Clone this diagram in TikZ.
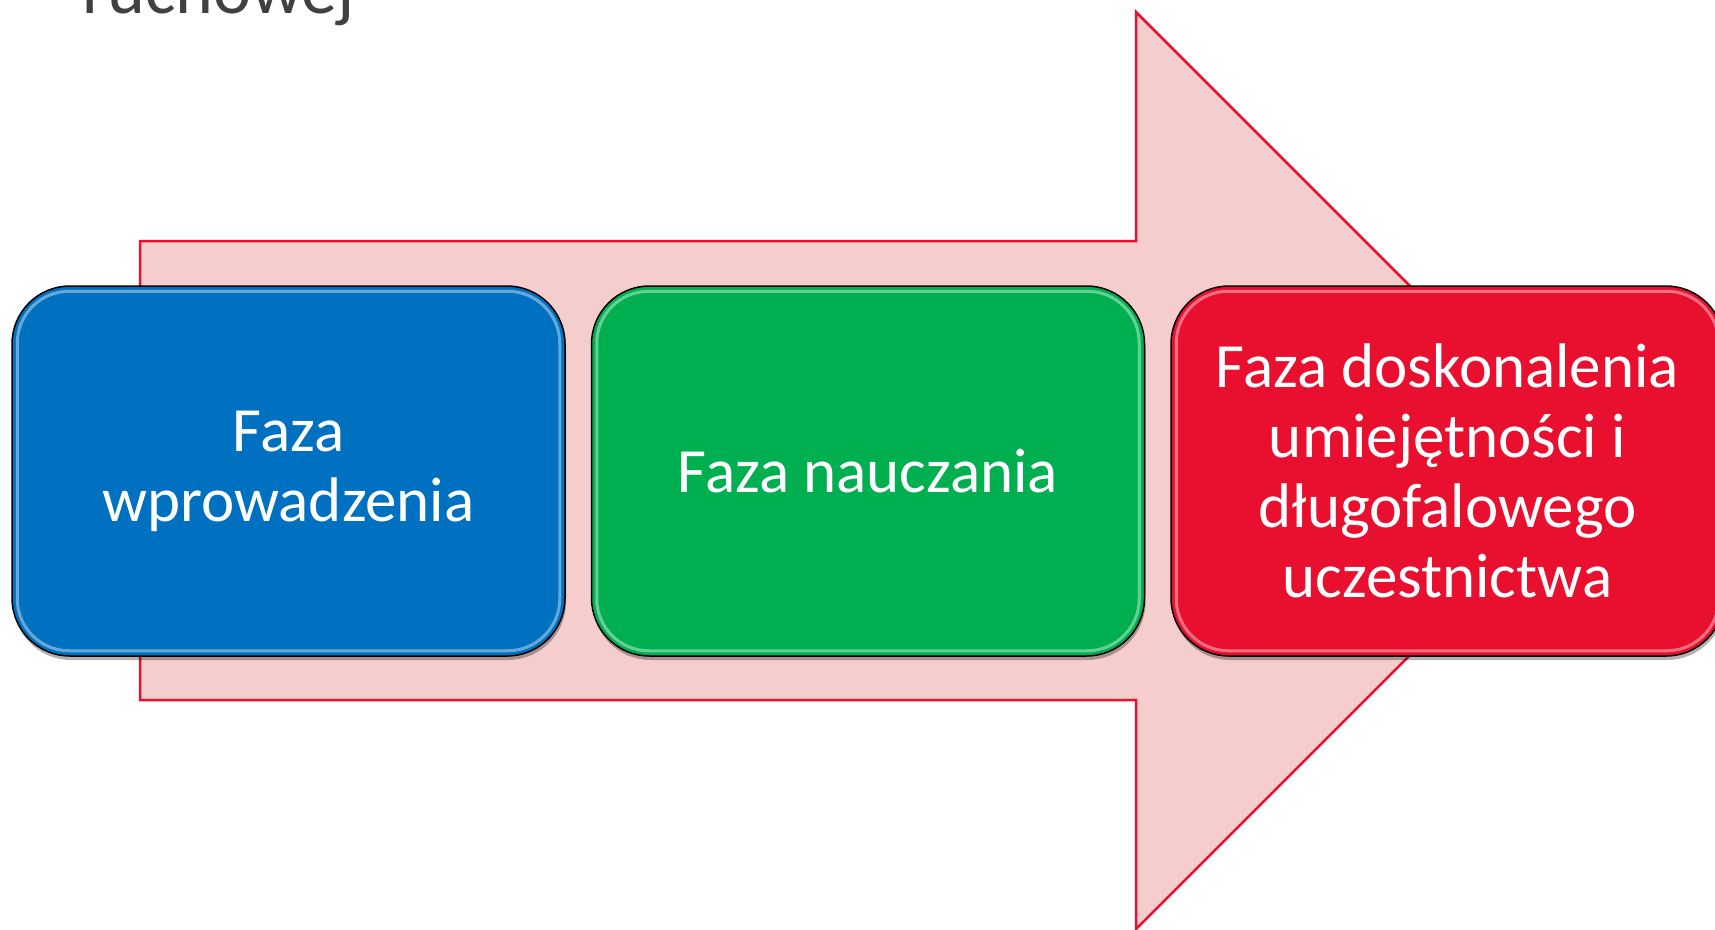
\documentclass[tikz,border=0pt]{standalone}
\usepackage{fontspec}
\setmainfont{Carlito}
\usepackage{tikz}
\usetikzlibrary{positioning}
\usetikzlibrary{shadows}

\definecolor{phaseblue}{RGB}{0,112,192}
\definecolor{phasegreen}{RGB}{0,176,80}
\definecolor{phasered}{RGB}{232,16,46}
\definecolor{arrowpink}{RGB}{246,205,205}
\definecolor{titlegray}{RGB}{64,64,64}

\begin{document}
\begin{tikzpicture}[x=1pt, y=-1pt,
        phase/.style={rectangle, rounded corners=58pt, fill=#1,
        draw=black, line width=1.5pt, minimum width=553pt,
        minimum height=370pt, inner sep=0pt, align=center, text=white,
        font=\fontsize{63}{70}\selectfont,
        drop shadow={shadow xshift=1pt, shadow yshift=-4pt,
        opacity=0.3, fill=black}},
        glint/.style={white, opacity=0.4, line width=3pt,
        rounded corners=52pt}]
        \useasboundingbox (0,0) rectangle (1715,929);

        \node[anchor=base west, text=titlegray, inner sep=0pt,
        font=\fontsize{72}{86}\selectfont] (title) at (82,13) {ruchowej};

        % big arrow behind the phases
        \draw[draw=phasered, fill=arrowpink, line width=2.5pt]
        (140,241) -- (1136,241) -- (1136,12) -- (1594.5,470.5)
        -- (1136,929) -- (1136,700) -- (140,700) -- cycle;

        \node[phase=phaseblue] (wprow) at (288.5,471)
        {Faza\\wprowadzenia};
        \node[phase=phasegreen, right=25pt of wprow] (naucz)
        {Faza nauczania};
        \node[phase=phasered, right=25pt of naucz] (dosk)
        {Faza doskonalenia\\umiejętności i\\długofalowego\\uczestnictwa};

        \foreach \b in {wprow, naucz, dosk}
        {
            \draw[glint] ([shift={(6,6)}]\b.north west) rectangle
            ([shift={(-6,-6)}]\b.south east);
        }
    \end{tikzpicture}
\end{document}
